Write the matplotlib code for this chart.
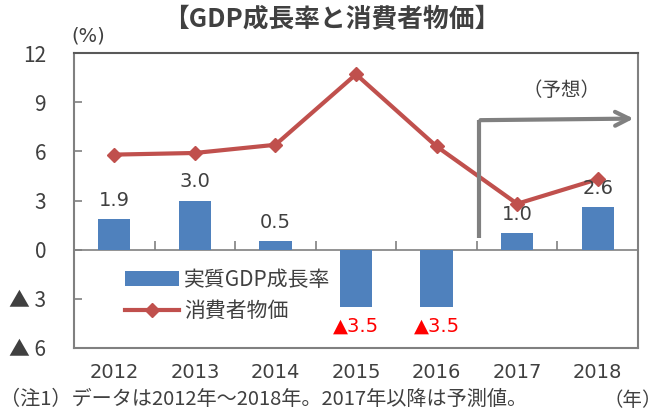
import matplotlib
matplotlib.use("Agg")
import matplotlib.pyplot as plt
import numpy as np

plt.rcParams['font.family'] = ['Noto Sans CJK JP', 'DejaVu Sans']

# データ
years = ['2012', '2013', '2014', '2015', '2016', '2017', '2018']
gdp = [1.9, 3.0, 0.5, -3.5, -3.5, 1.0, 2.6]
cpi = [5.8, 5.9, 6.4, 10.7, 6.3, 2.8, 4.3]
yticks = [12, 9, 6, 3, 0, -3, -6]
ytick_labels = ['12', '9', '6', '3', '0', '▲ 3', '▲ 6']

bar_color = '#4F81BD'
line_color = '#C0504D'
text_color = '#404040'
num_font = ['DejaVu Sans']

fig = plt.figure(figsize=(6.64, 4.12), dpi=100)
ax = fig.add_axes([74 / 664, 1 - 348 / 412, 564 / 664, 295 / 412])

x = np.arange(len(years))
bars = ax.bar(x, gdp, width=0.4, color=bar_color, zorder=2, label='実質GDP成長率')
line, = ax.plot(x, cpi, color=line_color, lw=3, marker='D', ms=7, zorder=3, label='消費者物価')

ax.set_xlim(-0.5, len(years) - 0.5)
ax.set_ylim(-6, 12)
ax.axhline(0, color='#808080', lw=1.2, zorder=1)
# 0 線上の目盛り
ax.vlines(np.arange(len(years) - 1) + 0.5, 0, 0.5, color='#808080', lw=1.2, zorder=1)

ax.set_yticks(yticks)
ax.set_yticklabels(ytick_labels, fontsize=15, color=text_color)
ax.tick_params(axis='y', direction='in', length=6, color='#808080', width=1.2, pad=20)
ax.set_xticks(x)
ax.set_xticklabels(years, fontsize=14, color=text_color, family=num_font)
ax.tick_params(axis='x', length=0, pad=11)
for s in ax.spines.values():
    s.set_color('#808080')
    s.set_linewidth(1.5)
ax.spines['top'].set_color('#595959')

# 棒のラベル
for i, v in enumerate(gdp):
    if v >= 0:
        ax.text(i, v + 0.55, f'{v:.1f}', ha='center', va='bottom', fontsize=14, color=text_color,
                family=num_font)
    else:
        ax.text(i, v - 0.6, f'▲{abs(v):.1f}', ha='center', va='top', fontsize=14, color='red',
                family=num_font)

# 予想の矢印
ax.plot([4.53, 4.53], [0.7, 7.9], color='#808080', lw=3, zorder=4, solid_capstyle='butt')
ax.annotate('', xy=(6.48, 8.0), xytext=(4.51, 7.9),
            arrowprops=dict(arrowstyle='->', color='#808080', lw=3, mutation_scale=25))
ax.text(5.55, 9.1, '（予想）', ha='center', va='bottom', fontsize=14, color=text_color)

leg = ax.legend([bars, line], ['実質GDP成長率', '消費者物価'], loc='lower left',
                bbox_to_anchor=(0.075, 0.06), frameon=False, fontsize=15,
                handlelength=2.6, labelspacing=0.45, handletextpad=0.25, borderaxespad=0)
for t in leg.get_texts():
    t.set_color(text_color)

fig.text(0.5, 0.952, '【GDP成長率と消費者物価】', ha='center', va='center', fontsize=18.5,
         fontweight='bold', color=text_color)
fig.text(88 / 664, 1 - 36 / 412, '(%)', ha='center', va='center', fontsize=14, color=text_color,
         family=num_font)
fig.text(0 / 664, 1 - 399 / 412, '（注1）データは2012年～2018年。2017年以降は予測値。', ha='left', va='center',
         fontsize=14.5, color=text_color)
fig.text(662 / 664, 1 - 401 / 412, '（年）', ha='right', va='center', fontsize=14, color=text_color)

fig.savefig('out.png', dpi=100)
